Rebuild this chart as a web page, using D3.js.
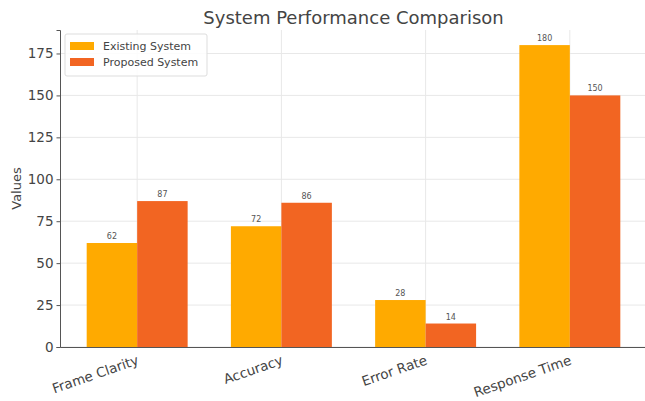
<!DOCTYPE html>
<html>
<head>
<meta charset="utf-8">
<script src="https://cdn.jsdelivr.net/npm/d3@7/dist/d3.min.js"></script>
<style>
  html, body { margin: 0; padding: 0; background: #fff; }
  svg { display: block; font-family: "DejaVu Sans", sans-serif; }
</style>
</head>
<body>
<svg id="chart" width="645" height="401"></svg>
<script>
// Chart data
const categories = ["Frame Clarity", "Accuracy", "Error Rate", "Response Time"];
const seriesNames = ["Existing System", "Proposed System"];
const existingValues = [62, 72, 28, 180];
const proposedValues = [87, 86, 14, 150];
const yTicks = [0, 25, 50, 75, 100, 125, 150, 175];
const seriesColors = ["#FFAA00", "#F26522"];

const svg = d3.select("#chart");
const W = 645, H = 401;
const margin = { left: 60, right: -2, top: 30, bottom: 54 };
const plotW = W - margin.left - margin.right;
const plotH = H - margin.top - margin.bottom;

const barW = 0.35;
// Numeric x scale in category units with 5% padding on each side
const xMin = -barW, xMax = categories.length - 1 + barW;
const pad = (xMax - xMin) * 0.05;
const x = d3.scaleLinear().domain([xMin - pad, xMax + pad]).range([margin.left, margin.left + plotW]);
const yMax = d3.max(existingValues.concat(proposedValues)) * 1.05;
const y = d3.scaleLinear().domain([0, yMax]).range([margin.top + plotH, margin.top]);

const g = svg.append("g");

// Grid lines
g.append("g").selectAll("line.hg").data(yTicks).join("line")
  .attr("x1", margin.left).attr("x2", margin.left + plotW)
  .attr("y1", d => y(d)).attr("y2", d => y(d))
  .attr("stroke", "#e8e8e8").attr("stroke-width", 1);
g.append("g").selectAll("line.vg").data(categories.map((c, i) => i)).join("line")
  .attr("x1", d => x(d)).attr("x2", d => x(d))
  .attr("y1", margin.top).attr("y2", margin.top + plotH)
  .attr("stroke", "#e8e8e8").attr("stroke-width", 1);

// Bars
const series = [existingValues, proposedValues];
series.forEach((vals, s) => {
  const off = s === 0 ? -barW / 2 : barW / 2;
  g.append("g").selectAll("rect").data(vals).join("rect")
    .attr("x", (d, i) => x(i + off - barW / 2))
    .attr("width", (d, i) => x(i + off + barW / 2) - x(i + off - barW / 2))
    .attr("y", d => y(d))
    .attr("height", d => y(0) - y(d))
    .attr("fill", seriesColors[s]);
  g.append("g").selectAll("text").data(vals).join("text")
    .attr("x", (d, i) => x(i + off))
    .attr("y", d => y(d) - 4)
    .attr("text-anchor", "middle")
    .attr("font-size", 8)
    .attr("fill", "#555")
    .text(d => d);
});

// Y axis
const yAxis = d3.axisLeft(y).tickValues(yTicks).tickSize(3.5).tickPadding(3);
const ya = svg.append("g").attr("transform", `translate(${margin.left},0)`).call(yAxis);
ya.select(".domain").attr("stroke", "#555").attr("stroke-width", 1);
ya.selectAll(".tick line").attr("stroke", "#555");
ya.selectAll(".tick text").attr("font-size", 13.5).attr("fill", "#444").attr("font-family", "DejaVu Sans");

// X axis
const xAxis = d3.axisBottom(x).tickValues(categories.map((c, i) => i)).tickFormat(i => categories[i]).tickSize(0);
const xa = svg.append("g").attr("transform", `translate(0,${margin.top + plotH})`).call(xAxis);
xa.select(".domain").attr("stroke", "#555").attr("stroke-width", 1);
xa.selectAll(".tick text")
  .attr("font-size", 13.5).attr("fill", "#444").attr("font-family", "DejaVu Sans")
  .attr("text-anchor", "end")
  .attr("dy", null).attr("y", 0)
  .attr("transform", "translate(2,17) rotate(-19)");

// Axis title
svg.append("text")
  .attr("transform", `translate(21,${margin.top + plotH / 2}) rotate(-90)`)
  .attr("text-anchor", "middle")
  .attr("font-size", 13).attr("fill", "#444")
  .text("Values");

// Chart title
svg.append("text")
  .attr("x", margin.left + plotW / 2).attr("y", 24)
  .attr("text-anchor", "middle")
  .attr("font-size", 18).attr("fill", "#444")
  .text("System Performance Comparison");

// Legend
const lg = svg.append("g").attr("transform", "translate(65,34)");
lg.append("rect").attr("width", 142).attr("height", 42).attr("rx", 2)
  .attr("fill", "#fff").attr("fill-opacity", 0.85).attr("stroke", "#ddd");
seriesNames.forEach((name, i) => {
  lg.append("rect").attr("x", 5).attr("y", 8 + i * 16).attr("width", 24).attr("height", 8)
    .attr("fill", seriesColors[i]);
  lg.append("text").attr("x", 38).attr("y", 16 + i * 16)
    .attr("font-size", 11).attr("fill", "#444").text(name);
});
</script>
</body>
</html>
